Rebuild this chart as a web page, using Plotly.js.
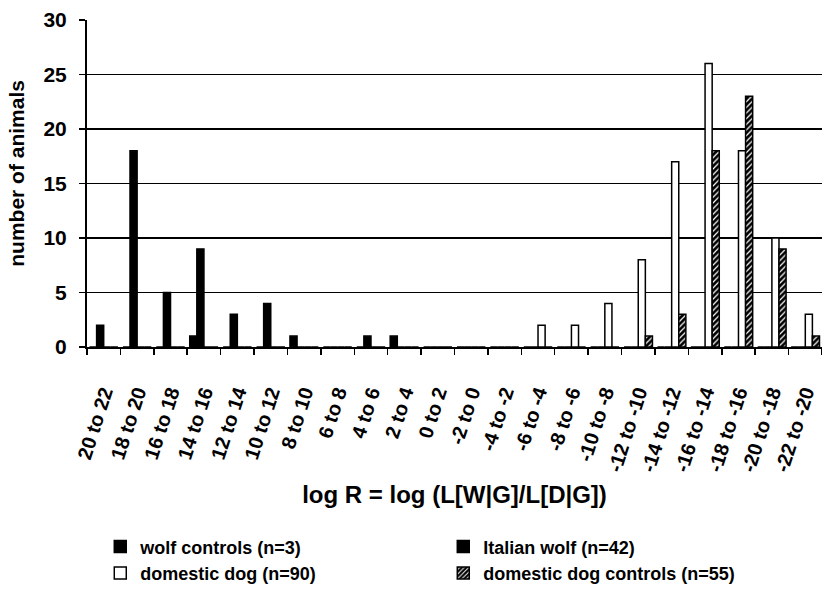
<!DOCTYPE html>
<html>
<head>
<meta charset="utf-8">
<script src="https://cdn.plot.ly/plotly-3.0.1.min.js"></script>
<style>html,body{margin:0;padding:0;background:#fff;}#chart{width:822px;height:597px;}</style>
</head>
<body>
<div id="chart"></div>
<script>
var categories = ["20 to 22","18 to 20","16 to 18","14 to 16","12 to 14","10 to 12","8 to 10","6 to 8","4 to 6","2 to 4","0 to 2","-2 to 0","-4 to -2","-6 to -4","-8 to -6","-10 to -8","-12 to -10","-14 to -12","-16 to -14","-18 to -16","-20 to -18","-22 to -20"];
var wolfControls       = [0,0,0,1,0,0,1,0,0,1,0,0,0,0,0,0,0,0,0,0,0,0];
var italianWolf        = [2,18,5,9,3,4,0,0,1,0,0,0,0,0,0,0,0,0,0,0,0,0];
var domesticDog        = [0,0,0,0,0,0,0,0,0,0,0,0,0,2,2,4,8,17,26,18,10,3];
var domesticDogControl = [0,0,0,0,0,0,0,0,0,0,0,0,0,0,0,0,1,3,18,23,9,1];
var seriesNames = ["wolf controls (n=3)","Italian wolf (n=42)","domestic dog (n=90)","domestic dog controls (n=55)"];
var yTitle = "number of animals";
var xTitle = "log R = log (L[W|G]/L[D|G])";

var FONT = '"Liberation Sans", Arial, sans-serif';
var lineStyle = {color:'black', width:1.5};

var traces = [
  {type:'bar', name:seriesNames[0], x:categories, y:wolfControls,
   marker:{color:'black', line:lineStyle}},
  {type:'bar', name:seriesNames[1], x:categories, y:italianWolf,
   marker:{color:'black', line:lineStyle}},
  {type:'bar', name:seriesNames[2], x:categories, y:domesticDog,
   marker:{color:'white', line:lineStyle}},
  {type:'bar', name:seriesNames[3], x:categories, y:domesticDogControl,
   marker:{color:'black', line:lineStyle,
     pattern:{shape:'/', bgcolor:'black', fgcolor:'white', size:4, solidity:0.3}}}
];

var layout = {
  width:822, height:597,
  margin:{l:87, r:0, t:20, b:250},
  paper_bgcolor:'white', plot_bgcolor:'white',
  font:{family:FONT, color:'black'},
  barmode:'group', bargap:0.15, bargroupgap:0,
  showlegend:true,
  xaxis:{
    type:'category', range:[-0.5, 21.5],
    showline:true, linecolor:'black', linewidth:2,
    ticks:'outside', tickson:'boundaries', ticklen:6, tickcolor:'black', tickwidth:1.5,
    tickangle:-72, ticklabelstandoff:24,
    tickfont:{family:FONT, size:20, weight:'bold', color:'black'},
    showgrid:false, zeroline:false,
    title:{text:xTitle, font:{family:FONT, size:24, weight:'bold'}, standoff:12}
  },
  yaxis:{
    range:[0,30], dtick:5, tick0:0,
    showline:true, linecolor:'black', linewidth:2,
    ticks:'outside', ticklen:6, tickcolor:'black', tickwidth:1.5,
    ticklabelstandoff:8,
    tickfont:{family:FONT, size:21, weight:'bold', color:'black'},
    showgrid:true, gridcolor:'black', gridwidth:1.5,
    zeroline:false
  },
  annotations:[{
    text:yTitle, xref:'paper', yref:'paper', x:-0.0952, y:0.53,
    xanchor:'center', yanchor:'middle', textangle:-90, showarrow:false,
    font:{family:FONT, size:21, weight:'bold', color:'black'}
  }],
  legend:{
    orientation:'h', xref:'container', yref:'container',
    x:0.122, y:0.115, xanchor:'left', yanchor:'top',
    entrywidth:298, entrywidthmode:'pixels',
    traceorder:'normal',
    font:{family:FONT, size:18, weight:'bold', color:'black'},
    bgcolor:'rgba(0,0,0,0)'
  }
};

Plotly.newPlot('chart', traces, layout, {displayModeBar:false, staticPlot:true});
</script>
</body>
</html>
